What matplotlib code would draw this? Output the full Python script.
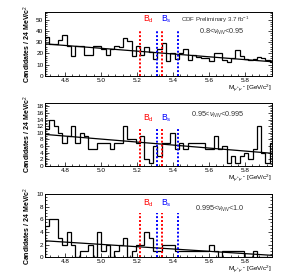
import numpy as np
import matplotlib
matplotlib.use('Agg')
import matplotlib.pyplot as plt
from matplotlib.ticker import MultipleLocator

# mass bins, 24 MeV wide
bin_start = 4.69
bin_width = 0.024

counts_1 = [35, 28, 28, 32, 36, 27, 18, 27, 27, 19, 19, 27, 27, 24, 19, 24, 27, 26, 34,
            31, 18, 27, 19, 26, 21, 15, 24, 29, 13, 20, 15, 20, 24, 14, 19, 17, 16, 16,
            13, 20, 20, 14, 12, 16, 23, 18, 15, 14, 15, 17, 16, 14, 12]
counts_2 = [11, 14, 12, 10, 7, 9, 12, 7, 10, 9, 5, 5, 7, 7, 7, 5, 7, 7, 12, 8, 8, 7, 9,
            2, 1, 6, 3, 7, 7, 10, 5, 7, 5, 7, 7, 7, 7, 5, 5, 9, 5, 6, 1, 3, 1, 3, 4, 2,
            5, 12, 4, 1, 7]
counts_3 = [5, 6, 6, 3, 2, 4, 2, 0, 1, 1, 2, 0, 4, 1, 2, 0, 1, 2, 3, 0, 1, 2, 2, 4, 3,
            1, 1, 2, 2, 2, 1, 1, 1, 1, 1, 1, 1, 1, 2, 1, 0, 1, 1, 1, 1, 1, 0, 0, 1, 0,
            0, 0, 0]

# fit line end values (at 4.69 and 5.95)
fit_1 = [28.5, 12.6]
fit_2 = [9.5, 3.8]
fit_3 = [2.6, 0.3]

labels = ['0.8<$\\nu_{NN}$<0.95', '0.95<$\\nu_{NN}$<0.995', '0.995<$\\nu_{NN}$<1.0']
ymaxes = [57, 19, 10]
ymajor = [10, 2, 2]
yminor = [2, 0.5, 0.5]
win_top = [41, 11.5, 7]

bd_window = [5.219, 5.339]
bs_window = [5.309, 5.429]
x_range = [4.69, 5.95]

plt.rcParams['font.family'] = 'Liberation Sans'
plt.rcParams['mathtext.fontset'] = 'custom'
plt.rcParams['mathtext.rm'] = 'Liberation Sans'
plt.rcParams['mathtext.it'] = 'Liberation Sans:italic'

fig = plt.figure(figsize=(2.89, 2.76), dpi=100)
boxes = [[0.156, 0.725, 0.785, 0.232],
         [0.156, 0.399, 0.785, 0.228],
         [0.156, 0.068, 0.785, 0.229]]
label_y = [0.66, 0.78, 0.74]

all_counts = [counts_1, counts_2, counts_3]
all_fits = [fit_1, fit_2, fit_3]

for i in range(3):
    ax = fig.add_axes(boxes[i])
    counts = all_counts[i]
    edges = bin_start + bin_width * np.arange(len(counts) + 1)
    ax.stairs(counts, edges, color='black', lw=0.9)
    ax.plot(x_range, all_fits[i], color='black', lw=0.9)

    for x in bd_window:
        ax.plot([x, x], [0, win_top[i]], color='red', lw=1.4, ls=(0, (1, 1)))
    for x in bs_window:
        ax.plot([x, x], [0, win_top[i]], color='blue', lw=1.4, ls=(0, (1, 1)))

    ax.text(5.262, win_top[i] * 1.1, 'B$_\\mathregular{d}$', color='red', fontsize=6.2,
            ha='center', va='bottom')
    ax.text(5.362, win_top[i] * 1.1, 'B$_\\mathregular{s}$', color='blue', fontsize=6.2,
            ha='center', va='bottom')

    if i == 0:
        ax.text(0.6, 0.84, 'CDF Preliminary 3.7 fb$^{-1}$', transform=ax.transAxes,
                fontsize=4.4, ha='left', color='#333333')
    ax.text(0.88, label_y[i], labels[i], transform=ax.transAxes, fontsize=5.2,
            ha='right', color='#333333')

    ax.set_xlim(x_range)
    ax.set_ylim(0, ymaxes[i])
    ax.xaxis.set_major_locator(MultipleLocator(0.2))
    ax.xaxis.set_minor_locator(MultipleLocator(0.04))
    ax.yaxis.set_major_locator(MultipleLocator(ymajor[i]))
    ax.yaxis.set_minor_locator(MultipleLocator(yminor[i]))
    ax.tick_params(which='both', direction='in', right=True, labelsize=4.6, width=0.5,
                   pad=1.2)
    ax.tick_params(which='major', length=3)
    ax.tick_params(which='minor', length=1.5)
    for s in ax.spines.values():
        s.set_linewidth(0.7)
    ax.set_ylabel('Candidates / 24 MeV/c$^2$', fontsize=5.0, fontweight='bold', labelpad=2)
    ax.text(1.0, -0.19, 'M$_{\\mu^+\\mu^-}$ [GeV/c$^2$]', transform=ax.transAxes,
            fontsize=4.6, ha='right', va='center')

fig.savefig('out.png', dpi=100)
